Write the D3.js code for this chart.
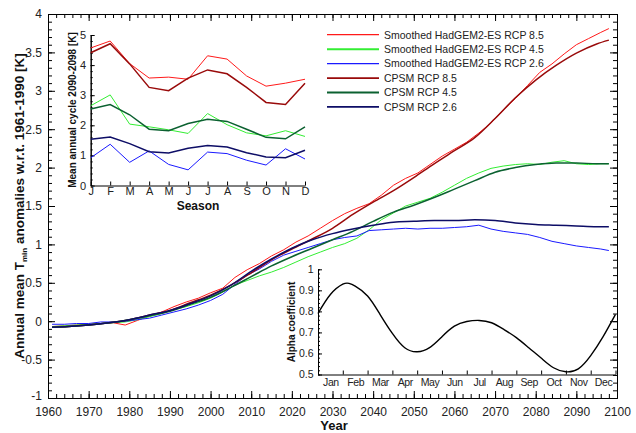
<!DOCTYPE html>
<html lang="en">
<head>
<meta charset="utf-8">
<title>Annual mean Tmin anomalies</title>
<script src="https://cdnjs.cloudflare.com/ajax/libs/d3/7.8.5/d3.min.js"></script>
<style>
  body { margin: 0; background: #fff; }
  svg { font-family: "Liberation Sans", Arial, sans-serif; }
  .domain { stroke: #000; stroke-width: 1; }
  .tick line { stroke: #000; stroke-width: 1; }
  .tick text { fill: #222; }
  .lbl { font-weight: bold; fill: #111; }
</style>
</head>
<body>
<svg id="chart" width="636" height="433"></svg>
<script>
// ---- main panel: smoothed HadGEM2-ES (3-yearly reads) and CPSM (5-yearly reads)
var yearsHad = [1961,1964,1967,1970,1973,1976,1979,1982,1985,1988,1991,1994,1997,2000,2003,2006,
  2009,2012,2015,2018,2021,2024,2027,2030,2033,2036,2039,2042,2045,2048,2051,2054,2057,2060,2063,
  2066,2069,2072,2075,2078,2081,2084,2087,2090,2093,2096,2098];
var had85 = [-0.07,-0.06,-0.05,-0.04,-0.03,-0.02,-0.05,0.01,0.07,0.12,0.19,0.25,0.30,0.37,0.43,0.57,
  0.67,0.75,0.85,0.93,1.03,1.11,1.21,1.31,1.40,1.47,1.53,1.64,1.77,1.86,1.93,2.04,2.15,2.24,2.33,
  2.45,2.58,2.75,2.90,3.07,3.24,3.35,3.48,3.60,3.68,3.76,3.81];
var had45 = [-0.07,-0.06,-0.05,-0.04,-0.03,-0.02,-0.01,0.02,0.06,0.10,0.15,0.19,0.24,0.30,0.38,0.47,
  0.53,0.59,0.64,0.70,0.77,0.84,0.90,0.96,1.01,1.08,1.19,1.32,1.41,1.50,1.55,1.60,1.68,1.77,1.86,
  1.93,1.99,2.02,2.04,2.05,2.04,2.07,2.09,2.05,2.04,2.05,2.05];
var had26 = [-0.04,-0.04,-0.03,-0.03,-0.01,-0.01,0.00,0.02,0.04,0.08,0.12,0.16,0.21,0.27,0.35,0.48,
  0.60,0.68,0.78,0.86,0.91,0.96,1.01,1.06,1.09,1.11,1.18,1.19,1.20,1.21,1.20,1.21,1.21,1.22,1.23,
  1.25,1.20,1.17,1.15,1.13,1.09,1.04,1.01,0.98,0.96,0.94,0.92];

var yearsCpsm = [1961,1965,1970,1975,1980,1985,1990,1995,2000,2005,2010,2015,2020,2025,2030,2035,
  2040,2045,2050,2055,2060,2065,2070,2075,2080,2085,2090,2095,2098];
var cpsm85 = [-0.08,-0.07,-0.05,-0.02,0.02,0.08,0.14,0.24,0.34,0.47,0.63,0.80,0.94,1.07,1.21,1.39,
  1.55,1.70,1.87,2.05,2.22,2.39,2.64,2.91,3.14,3.33,3.49,3.61,3.66];
var cpsm45 = [-0.08,-0.07,-0.05,-0.02,0.02,0.07,0.13,0.22,0.31,0.44,0.58,0.72,0.84,0.95,1.06,1.17,
  1.30,1.42,1.51,1.61,1.72,1.83,1.94,2.00,2.04,2.06,2.06,2.05,2.05];
var cpsm26 = [-0.08,-0.07,-0.05,-0.02,0.02,0.08,0.14,0.23,0.33,0.47,0.65,0.81,0.95,1.06,1.14,1.20,
  1.25,1.29,1.30,1.31,1.31,1.32,1.31,1.28,1.26,1.25,1.24,1.23,1.23];

// ---- top-left inset: mean annual cycle 2090-2098
var seasonLabels = ["J","F","M","A","M","J","J","A","S","O","N","D"];
var cycHad85  = [4.57,4.80,4.05,3.57,3.60,3.53,4.31,4.20,3.64,3.30,3.40,3.53];
var cycHad45  = [2.65,3.01,2.04,1.95,1.85,1.73,2.39,2.02,1.75,1.65,1.82,1.63];
var cycHad26  = [0.92,1.37,0.77,1.15,0.70,0.52,1.11,1.06,0.84,0.68,1.22,0.88];
var cycCpsm85 = [4.41,4.71,4.04,3.26,3.15,3.57,3.84,3.71,3.26,2.76,2.69,3.40];
var cycCpsm45 = [2.54,2.69,2.35,1.87,1.82,2.06,2.20,2.13,1.87,1.60,1.55,1.95];
var cycCpsm26 = [1.54,1.61,1.39,1.12,1.08,1.24,1.33,1.28,1.09,0.95,0.92,1.17];

// ---- bottom-right inset: alpha coefficient through the year (month position 0..12)
var monthNames = ["Jan","Feb","Mar","Apr","May","Jun","Jul","Aug","Sep","Oct","Nov","Dec"];
var alphaMonth = [0,0.5,1,1.25,1.5,2,2.5,3,3.5,4,4.5,5,5.5,6,6.5,7,7.5,8,8.5,9,9.5,10,10.5,11,11.5,12];
var alphaVal = [0.79,0.88,0.929,0.933,0.92,0.873,0.786,0.695,0.627,0.608,0.628,0.68,0.73,0.752,
  0.757,0.746,0.714,0.675,0.627,0.578,0.532,0.513,0.527,0.59,0.68,0.786];

var legendNames = ["Smoothed HadGEM2-ES RCP 8.5","Smoothed HadGEM2-ES RCP 4.5","Smoothed HadGEM2-ES RCP 2.6",
  "CPSM RCP 8.5","CPSM RCP 4.5","CPSM RCP 2.6"];
var colors = ["#ff1a1a","#33ee33","#1a1aff","#990a0a","#0b6130","#0d0d66"];
var widths = [1, 1, 1, 1.5, 1.5, 1.5];

var svg = d3.select("#chart");

function zip(xs, ys) { return xs.map(function (x, i) { return [x, ys[i]]; }); }

// draw a pair of axes (majors + minors) of the same orientation
function ticksAxis(g, make, scale, majors, minors, majLen, minLen, fmt, pad, fontSize) {
  g.append("g").call(make(scale).tickValues(minors).tickSize(-minLen).tickSizeOuter(0).tickFormat(""));
  var a = g.append("g").call(make(scale).tickValues(majors).tickSize(-majLen).tickSizeOuter(0)
      .tickPadding(pad).tickFormat(fmt || ""));
  a.selectAll("text").style("font-size", fontSize + "px");
  return a;
}

// ================= main panel
var x = d3.scaleLinear().domain([1960, 2100]).range([48, 617]);
var y = d3.scaleLinear().domain([-1, 4]).range([398, 14]);

var main = svg.append("g");
var xMaj = d3.range(1960, 2101, 10), xMin = d3.range(1960, 2101, 2);
var yMaj = d3.range(-1, 4.01, 0.5), yMin = d3.range(-1, 4.01, 0.1);
var fmtNum = function (d) { return String(+d.toFixed(2)); };

ticksAxis(main.append("g").attr("transform", "translate(0,398)"), d3.axisBottom, x, xMaj, xMin, 7, 4, fmtNum, 9, 12);
ticksAxis(main.append("g").attr("transform", "translate(0,14)"), d3.axisTop, x, xMaj, xMin, 7, 4, null, 3, 12);
var yAx = ticksAxis(main.append("g").attr("transform", "translate(48,0)"), d3.axisLeft, y, yMaj, yMin, 7, 4, fmtNum, 6, 12);
// lift the lowest label a touch so it clears "1960"
yAx.selectAll("text").filter(function (d) { return d === -1; }).attr("dy", "0.1em");
ticksAxis(main.append("g").attr("transform", "translate(617,0)"), d3.axisRight, y, yMaj, yMin, 7, 4, null, 3, 12);

var lineMain = d3.line().x(function (d) { return x(d[0]); }).y(function (d) { return y(d[1]); });
var lineSmooth = d3.line().x(function (d) { return x(d[0]); }).y(function (d) { return y(d[1]); })
    .curve(d3.curveMonotoneX);

var mainSeries = [zip(yearsHad, had85), zip(yearsHad, had45), zip(yearsHad, had26),
                  zip(yearsCpsm, cpsm85), zip(yearsCpsm, cpsm45), zip(yearsCpsm, cpsm26)];
mainSeries.forEach(function (s, i) {
  main.append("path")
    .attr("d", i < 3 ? lineMain(s) : lineSmooth(s))
    .attr("fill", "none")
    .attr("stroke", colors[i])
    .attr("stroke-width", widths[i]);
});

// axis titles
var yt = main.append("text").attr("class", "lbl")
    .attr("transform", "translate(23.5,206) rotate(-90)")
    .attr("text-anchor", "middle").style("font-size", "13.5px");
yt.append("tspan").text("Annual mean T");
yt.append("tspan").text("min").style("font-size", "8px").attr("dy", "3");
yt.append("tspan").text(" anomalies w.r.t. 1961-1990 [K]").attr("dy", "-3");

main.append("text").attr("class", "lbl").attr("x", 334).attr("y", 430)
  .attr("text-anchor", "middle").style("font-size", "13px").text("Year");

// legend
var leg = svg.append("g");
legendNames.forEach(function (n, i) {
  var cy = 34.7 + i * 14.45;
  leg.append("line").attr("x1", 327).attr("x2", 379).attr("y1", cy).attr("y2", cy)
    .attr("stroke", colors[i]).attr("stroke-width", i === 1 ? 2 : (i < 3 ? 1.2 : 1.8));
  leg.append("text").attr("x", 384).attr("y", cy + 3.8).style("font-size", "10.5px")
    .attr("fill", "#222").text(n);
});

// ================= top-left inset
var xs = d3.scaleLinear().domain([0, 11]).range([90.7, 305]);
var ys = d3.scaleLinear().domain([0, 5]).range([185.5, 35]);
var ins1 = svg.append("g");

ins1.append("g").attr("transform", "translate(0,185.5)")
  .call(d3.axisBottom(xs).tickValues(d3.range(0, 12)).tickSize(-4).tickSizeOuter(0).tickPadding(2)
    .tickFormat(function (i) { return seasonLabels[i]; }))
  .selectAll("text").style("font-size", "11px");
ticksAxis(ins1.append("g").attr("transform", "translate(90.7,0)"), d3.axisLeft, ys,
  d3.range(0, 5.01, 1), d3.range(0, 5.01, 0.2), 4, 2, fmtNum, 4.5, 11);

var lineCyc = d3.line().x(function (d, i) { return xs(i); }).y(function (d) { return ys(d); });
[cycHad85, cycHad45, cycHad26, cycCpsm85, cycCpsm45, cycCpsm26].forEach(function (s, i) {
  ins1.append("path").attr("d", lineCyc(s)).attr("fill", "none")
    .attr("stroke", colors[i]).attr("stroke-width", widths[i]);
});

ins1.append("text").attr("class", "lbl")
  .attr("transform", "translate(75.5,110) rotate(-90)")
  .attr("text-anchor", "middle").style("font-size", "10px").text("Mean annual cycle 2090-2098 [K]");
ins1.append("text").attr("class", "lbl").attr("x", 198).attr("y", 209.5)
  .attr("text-anchor", "middle").style("font-size", "12px").text("Season");

// ================= bottom-right inset
var xa = d3.scaleLinear().domain([0, 12]).range([318, 615.5]);
var ya = d3.scaleLinear().domain([0.5, 1]).range([374.5, 269.3]);
var ins2 = svg.append("g");

ins2.append("g").attr("transform", "translate(0,374.5)")
  .call(d3.axisBottom(xa).tickValues(d3.range(0, 13)).tickSize(-4).tickSizeOuter(0).tickFormat(""));
ins2.append("g").attr("transform", "translate(0,374.5)")
  .call(d3.axisBottom(xa).tickValues(d3.range(0.5, 12, 1)).tickSize(0).tickPadding(4)
    .tickFormat(function (d) { return monthNames[Math.floor(d)]; }))
  .call(function (g) { g.select(".domain").remove(); })
  .selectAll("text").style("font-size", "10.5px").style("letter-spacing", "-0.4px");
ticksAxis(ins2.append("g").attr("transform", "translate(318,0)"), d3.axisLeft, ya,
  d3.range(0.5, 1.001, 0.1), d3.range(0.5, 1.001, 0.02), 4, 2, fmtNum, 4.5, 10.5);

var lineAlpha = d3.line().x(function (d) { return xa(d[0]); }).y(function (d) { return ya(d[1]); })
    .curve(d3.curveNatural);
ins2.append("path").attr("d", lineAlpha(zip(alphaMonth, alphaVal)))
  .attr("fill", "none").attr("stroke", "#000").attr("stroke-width", 1.4);

ins2.append("text").attr("class", "lbl")
  .attr("transform", "translate(295,322) rotate(-90)")
  .attr("text-anchor", "middle").style("font-size", "10px").text("Alpha coefficient");
</script>
</body>
</html>
